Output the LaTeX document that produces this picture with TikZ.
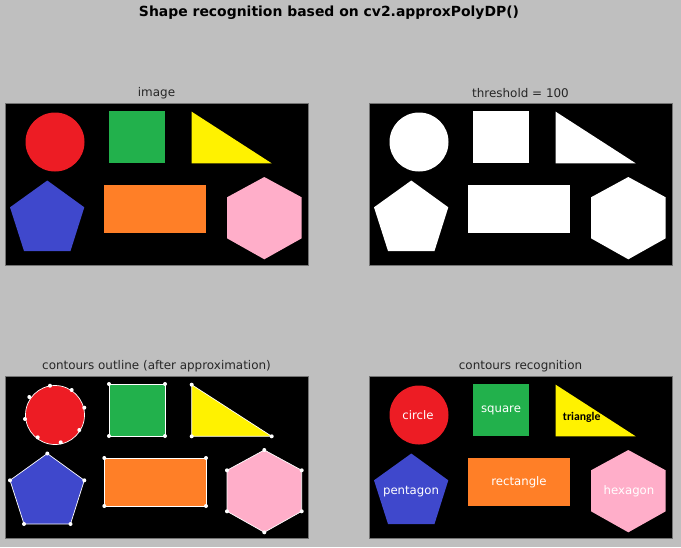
\documentclass[tikz,border=0pt]{standalone}
\usepackage{fontspec}
\setmainfont{DejaVu Sans}
\newfontfamily\labelfont{Carlito}
\usepackage{tikz}
\usetikzlibrary{positioning}
\usepackage{xcolor}

\definecolor{figgray}{RGB}{191,191,191}
\definecolor{shred}{RGB}{237,28,36}
\definecolor{shgreen}{RGB}{34,177,76}
\definecolor{shyellow}{RGB}{255,242,0}
\definecolor{shblue}{RGB}{63,72,204}
\definecolor{shorange}{RGB}{255,127,39}
\definecolor{shpink}{RGB}{255,174,201}

% the six shapes of one panel, fill colours as arguments
\newcommand{\drawshapes}[6]{%
\coordinate (o) at (50,39);
\coordinate (s1) at (104,8);
\coordinate (s2) at (160,8);
\coordinate (s3) at (160,60);
\coordinate (s4) at (104,60);
\coordinate (t1) at (186.7,8.7);
\coordinate (t2) at (186.7,60.3);
\coordinate (t3) at (266.7,60.3);
\coordinate (p1) at (42.3,77.5);
\coordinate (p2) at (79.3,104.3);
\coordinate (p3) at (65.5,148);
\coordinate (p4) at (19,148);
\coordinate (p5) at (5,104.3);
\coordinate (r1) at (99.3,82);
\coordinate (r2) at (201,82);
\coordinate (r3) at (201,130);
\coordinate (r4) at (99.3,130);
\coordinate (h1) at (259.3,74);
\coordinate (h2) at (296.7,94.3);
\coordinate (h3) at (296.7,135.3);
\coordinate (h4) at (259.3,156.3);
\coordinate (h5) at (222,135.3);
\coordinate (h6) at (222,94.3);
\fill [#1] (o) circle [radius=29.5];
\fill [#2] (s1) -- (s2) -- (s3) -- (s4) -- cycle;
\fill [#3] (t1) -- (t2) -- (t3) -- cycle;
\fill [#4] (p1) -- (p2) -- (p3) -- (p4) -- (p5) -- cycle;
\fill [#5] (r1) -- (r2) -- (r3) -- (r4) -- cycle;
\fill [#6] (h1) -- (h2) -- (h3) -- (h4) -- (h5) -- (h6) -- cycle;
}

\begin{document}
\begin{tikzpicture}[x=0.03cm, y=-0.03cm,
  panel/.style={fill=black, draw=black!55, line width=0.4pt},
  subtitle/.style={font=\fontsize{10.2}{12}\selectfont, text=black!85},
  outline/.style={draw=white, line width=0.6pt},
  vertex/.style={fill=white},
  lbl/.style={font=\fontsize{10}{12}\selectfont, text=white}]

\fill [figgray] (0,0) rectangle (681,547);
\useasboundingbox (0,0) rectangle (681,547);

\node [font=\bfseries\fontsize{11.9}{14}\selectfont] (title) at (329,13) {Shape recognition based on cv2.approxPolyDP()};

\node [subtitle] (title-img) at (156.5,93) {image};
\node [subtitle] (title-thr) at (520.5,93) {threshold = 100};
\node [subtitle] (title-out) at (156.5,366) {contours outline (after approximation)};
\node [subtitle] (title-rec) at (520.5,366) {contours recognition};

% image
\begin{scope}[shift={(5,103)}]
\draw [panel] (0,0) rectangle (303,162);
\drawshapes{shred}{shgreen}{shyellow}{shblue}{shorange}{shpink}
\end{scope}

% threshold
\begin{scope}[shift={(369,103)}]
\draw [panel] (0,0) rectangle (303,162);
\drawshapes{white}{white}{white}{white}{white}{white}
\end{scope}

% outline
\begin{scope}[shift={(5,376)}]
\draw [panel] (0,0) rectangle (303,162);
\drawshapes{shred}{shgreen}{shyellow}{shblue}{shorange}{shpink}
\coordinate (c1) at (45,9.7);
\coordinate (c2) at (66.7,14);
\coordinate (c3) at (79.3,31.7);
\coordinate (c4) at (74.3,54);
\coordinate (c5) at (55.7,66.3);
\coordinate (c6) at (32.7,61.3);
\coordinate (c7) at (20,43);
\coordinate (c8) at (24.3,21);
\draw [outline] (o) circle [radius=29.5];
\draw [outline] (s1) -- (s2) -- (s3) -- (s4) -- cycle;
\draw [outline] (t1) -- (t2) -- (t3) -- cycle;
\draw [outline] (p1) -- (p2) -- (p3) -- (p4) -- (p5) -- cycle;
\draw [outline] (r1) -- (r2) -- (r3) -- (r4) -- cycle;
\draw [outline] (h1) -- (h2) -- (h3) -- (h4) -- (h5) -- (h6) -- cycle;
\foreach \v in {c1,c2,c3,c4,c5,c6,c7,c8,s1,s2,s3,s4,t1,t2,t3,p1,p2,p3,p4,p5,r1,r2,r3,r4,h1,h2,h3,h4,h5,h6}
  \fill [vertex] (\v) circle [radius=2];
\end{scope}

% recognition
\begin{scope}[shift={(369,376)}]
\draw [panel] (0,0) rectangle (303,162);
\drawshapes{shred}{shgreen}{shyellow}{shblue}{shorange}{shpink}
\node [lbl] (l-circle) at (49,39) {circle};
\node [lbl] (l-square) at (132,34) {square};
\node [lbl, text=black, font=\labelfont\bfseries\fontsize{10}{12}\selectfont] (l-triangle) at (212.7,41) {triangle};
\node [lbl] (l-pentagon) at (42,116) {pentagon};
\node [lbl] (l-rectangle) at (150,106) {rectangle};
\node [lbl] (l-hexagon) at (260,115) {hexagon};
\end{scope}

\end{tikzpicture}
\end{document}
